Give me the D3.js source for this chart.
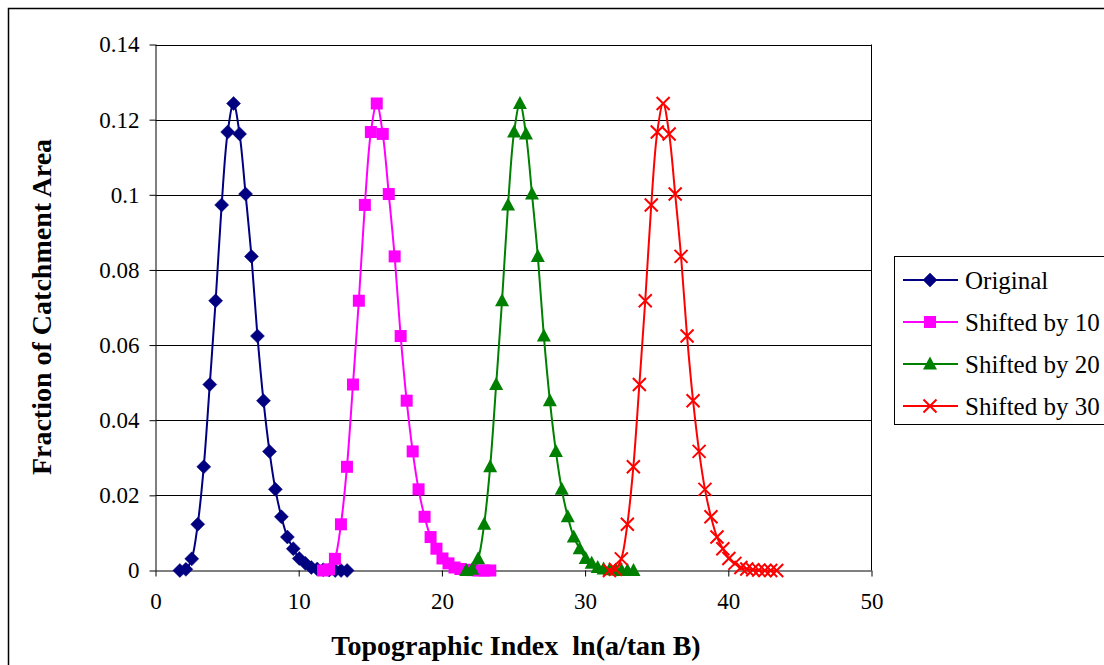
<!DOCTYPE html>
<html>
<head>
<meta charset="utf-8">
<script src="https://cdn.jsdelivr.net/npm/d3@7/dist/d3.min.js"></script>
<style>
  html, body { margin: 0; padding: 0; background: #fff; overflow: hidden; }
  svg { display: block; }
  text { font-family: "Liberation Serif", "Times New Roman", serif; fill: #000; white-space: pre; }
</style>
</head>
<body>
<script>
// Topographic index distribution, original and shifted copies
const topoIndex = [1.70, 2.12, 2.53, 2.95, 3.37, 3.79, 4.20, 4.62, 5.04, 5.45,
                   5.87, 6.29, 6.70, 7.12, 7.54, 7.96, 8.37, 8.79, 9.21, 9.62,
                   10.04, 10.46, 10.88, 11.29, 11.71, 12.13, 12.55, 12.96, 13.38];
const areaFraction = [0.0000, 0.0003, 0.0031, 0.0123, 0.0276, 0.0495, 0.0718, 0.0973, 0.1167, 0.1243,
                      0.1162, 0.1002, 0.0836, 0.0624, 0.0452, 0.0317, 0.0216, 0.0143, 0.0089, 0.0058,
                      0.0032, 0.0019, 0.0008, 0.0004, 0.0002, 0.0001, 0.0000, 0.0000, 0.0000];
const seriesNames = ["Original", "Shifted by 10", "Shifted by 20", "Shifted by 30"];
const seriesShift = [0, 10, 20, 30];
const seriesColors = ["#000080", "#FF00FF", "#008000", "#FF0000"];
const seriesMarkers = ["diamond", "square", "triangle", "cross"];

const xTicks = [0, 10, 20, 30, 40, 50];
const xTickLabels = ["0", "10", "20", "30", "40", "50"];
const yTicks = [0, 0.02, 0.04, 0.06, 0.08, 0.1, 0.12, 0.14];
const yTickLabels = ["0", "0.02", "0.04", "0.06", "0.08", "0.1", "0.12", "0.14"];

const W = 1104, H = 665;
const plot = { left: 155.5, right: 871.5, top: 44.5, bottom: 570.5 };

const svg = d3.select("body").append("svg").attr("width", W).attr("height", H);

const x = d3.scaleLinear().domain([0, 50]).range([plot.left, plot.right]);
const y = d3.scaleLinear().domain([0, 0.14]).range([plot.bottom, plot.top]);

// chart frame
svg.append("rect").attr("x", 8.5).attr("y", 8.5).attr("width", 1200).attr("height", 700)
  .attr("fill", "#fff").attr("stroke", "#000").attr("stroke-width", 1.5);

// horizontal gridlines
svg.append("g").selectAll("line").data(yTicks.slice(1)).join("line")
  .attr("x1", plot.left).attr("x2", plot.right)
  .attr("y1", d => Math.round(y(d)) + 0.5).attr("y2", d => Math.round(y(d)) + 0.5)
  .attr("stroke", "#000").attr("stroke-width", 1);

// right edge of plot area
svg.append("line").attr("x1", plot.right).attr("x2", plot.right)
  .attr("y1", plot.top).attr("y2", plot.bottom).attr("stroke", "#000");

// axes
const xAxis = d3.axisBottom(x).tickValues(xTicks).tickSize(6).tickPadding(16)
  .tickFormat((d, i) => xTickLabels[i]);
const gx = svg.append("g").attr("transform", `translate(0,${plot.bottom})`).call(xAxis);
const yAxis = d3.axisLeft(y).tickValues(yTicks).tickSize(6).tickPadding(10)
  .tickFormat((d, i) => yTickLabels[i]);
const gy = svg.append("g").attr("transform", `translate(${plot.left},0)`).call(yAxis);
[gx, gy].forEach(g => {
  g.select(".domain").attr("stroke", "#000").attr("stroke-width", 1);
  g.selectAll(".tick line").attr("stroke", "#000");
  g.selectAll(".tick text").attr("font-family", "Liberation Serif, Times New Roman, serif")
    .attr("font-size", 23).attr("fill", "#000");
});
gx.select(".domain").attr("d", `M${plot.left},0.5H${plot.right}`);
gy.select(".domain").attr("d", `M0.5,${plot.top}V${plot.bottom}`);

// marker shapes
function drawMarker(g, type, color, cx, cy) {
  if (type === "diamond") {
    g.append("path").attr("d", `M${cx},${cy - 7}L${cx + 7},${cy}L${cx},${cy + 7}L${cx - 7},${cy}Z`)
      .attr("fill", color).attr("stroke", color).attr("stroke-width", 0.5);
  } else if (type === "square") {
    g.append("rect").attr("x", cx - 6).attr("y", cy - 6).attr("width", 12).attr("height", 12)
      .attr("fill", color);
  } else if (type === "triangle") {
    g.append("path").attr("d", `M${cx},${cy - 7.5}L${cx + 7},${cy + 5.5}L${cx - 7},${cy + 5.5}Z`)
      .attr("fill", color);
  } else {
    g.append("path").attr("d", `M${cx - 6.5},${cy - 6.5}L${cx + 6.5},${cy + 6.5}M${cx - 6.5},${cy + 6.5}L${cx + 6.5},${cy - 6.5}`)
      .attr("stroke", color).attr("stroke-width", 2).attr("fill", "none");
  }
}

const line = d3.line().curve(d3.curveCatmullRom.alpha(0.5))
  .x(d => x(d[0])).y(d => y(d[1]));

seriesNames.forEach((name, s) => {
  const pts = topoIndex.map((v, i) => [v + seriesShift[s], areaFraction[i]]);
  const g = svg.append("g");
  g.append("path").attr("d", line(pts)).attr("fill", "none")
    .attr("stroke", seriesColors[s]).attr("stroke-width", 2);
  pts.forEach(p => drawMarker(g, seriesMarkers[s], seriesColors[s], x(p[0]), y(p[1])));
});

// legend
const lg = svg.append("g");
lg.append("rect").attr("x", 894.5).attr("y", 256.5).attr("width", 300).attr("height", 168)
  .attr("fill", "#fff").attr("stroke", "#000").attr("stroke-width", 1);
seriesNames.forEach((name, s) => {
  const cy = 280 + s * 42;
  lg.append("line").attr("x1", 903).attr("x2", 958).attr("y1", cy).attr("y2", cy)
    .attr("stroke", seriesColors[s]).attr("stroke-width", 2);
  drawMarker(lg, seriesMarkers[s], seriesColors[s], 930, cy);
  lg.append("text").attr("x", 965).attr("y", cy).attr("dy", "0.35em")
    .attr("font-size", 25).text(name);
});

// axis titles
svg.append("text").attr("x", 516).attr("y", 655).attr("text-anchor", "middle")
  .attr("font-size", 28).attr("font-weight", "bold").text("Topographic Index  ln(a/tan B)");
svg.append("text").attr("transform", "translate(51,307) rotate(-90)").attr("text-anchor", "middle")
  .attr("font-size", 28).attr("font-weight", "bold").text("Fraction of Catchment Area");
</script>
</body>
</html>
